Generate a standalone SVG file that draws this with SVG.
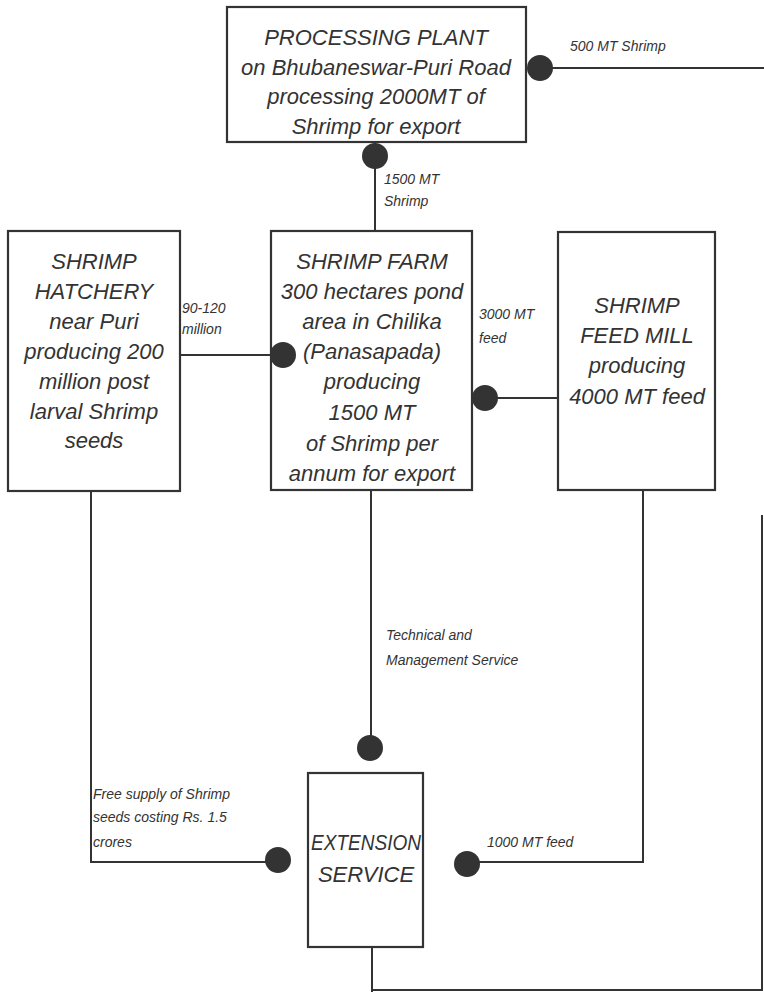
<svg xmlns="http://www.w3.org/2000/svg" width="764" height="992" viewBox="0 0 764 992">
<style>
.box{fill:#fff;stroke:#333;stroke-width:2.2}
.ln{fill:none;stroke:#333;stroke-width:2}
.dot{fill:#333}
.t{font-family:"Liberation Sans",Arial,sans-serif;font-style:italic;font-size:22px;fill:#333;text-anchor:middle}
.s{font-family:"Liberation Sans",Arial,sans-serif;font-style:italic;font-size:14px;fill:#333}
</style>
<rect width="764" height="992" fill="#fff"/>
<g id="plant">
<rect class="box" x="227" y="7" width="299" height="135"/>
<text class="t" x="376" y="45">PROCESSING PLANT</text>
<text class="t" x="376" y="75">on Bhubaneswar-Puri Road</text>
<text class="t" x="376" y="104">processing 2000MT of</text>
<text class="t" x="376" y="134">Shrimp for export</text>
</g>
<g id="hatchery">
<rect class="box" x="8" y="231" width="172" height="260"/>
<text class="t" x="94" y="269">SHRIMP</text>
<text class="t" x="94" y="299">HATCHERY</text>
<text class="t" x="94" y="329">near Puri</text>
<text class="t" x="94" y="359">producing 200</text>
<text class="t" x="94" y="389">million post</text>
<text class="t" x="94" y="419">larval Shrimp</text>
<text class="t" x="94" y="448">seeds</text>
</g>
<g id="farm">
<rect class="box" x="271" y="231" width="201" height="259"/>
<text class="t" x="372" y="269">SHRIMP FARM</text>
<text class="t" x="372" y="299">300 hectares pond</text>
<text class="t" x="372" y="329">area in Chilika</text>
<text class="t" x="372" y="359">(Panasapada)</text>
<text class="t" x="372" y="389">producing</text>
<text class="t" x="372" y="420">1500 MT</text>
<text class="t" x="372" y="451">of Shrimp per</text>
<text class="t" x="372" y="481">annum for export</text>
</g>
<g id="feedmill">
<rect class="box" x="558" y="232" width="157" height="258"/>
<text class="t" x="637" y="313">SHRIMP</text>
<text class="t" x="637" y="343">FEED MILL</text>
<text class="t" x="637" y="373">producing</text>
<text class="t" x="637" y="404">4000 MT feed</text>
</g>
<g id="extension">
<rect class="box" x="308" y="773" width="115" height="174"/>
<text class="t" x="366" y="850" textLength="110" lengthAdjust="spacingAndGlyphs">EXTENSION</text>
<text class="t" x="366" y="882">SERVICE</text>
</g>
<g id="connectors">
<path class="ln" d="M540 68 H764"/>
<path class="ln" d="M375 142 V231"/>
<path class="ln" d="M180 355 H282"/>
<path class="ln" d="M485 398 H558"/>
<path class="ln" d="M371 491 V748"/>
<path class="ln" d="M91 492 V862 H278"/>
<path class="ln" d="M643 491 V862 H467"/>
<path class="ln" d="M372 948 V992"/>
<path class="ln" d="M372 990 H762 V515"/>
<circle class="dot" cx="540" cy="68" r="13"/>
<circle class="dot" cx="375" cy="156" r="13"/>
<circle class="dot" cx="283" cy="355" r="13"/>
<circle class="dot" cx="485" cy="398" r="13"/>
<circle class="dot" cx="370" cy="748" r="13"/>
<circle class="dot" cx="278" cy="860" r="13"/>
<circle class="dot" cx="467" cy="864" r="13"/>
<text class="s" x="570" y="51">500 MT Shrimp</text>
<text class="s" x="384" y="184">1500 MT</text>
<text class="s" x="384" y="206">Shrimp</text>
<text class="s" x="182" y="313">90-120</text>
<text class="s" x="182" y="334">million</text>
<text class="s" x="479" y="319">3000 MT</text>
<text class="s" x="479" y="343">feed</text>
<text class="s" x="386" y="640">Technical and</text>
<text class="s" x="386" y="665">Management Service</text>
<text class="s" x="93" y="799">Free supply of Shrimp</text>
<text class="s" x="93" y="822">seeds costing Rs. 1.5</text>
<text class="s" x="93" y="847">crores</text>
<text class="s" x="487" y="847">1000 MT feed</text>
</g>
</svg>
